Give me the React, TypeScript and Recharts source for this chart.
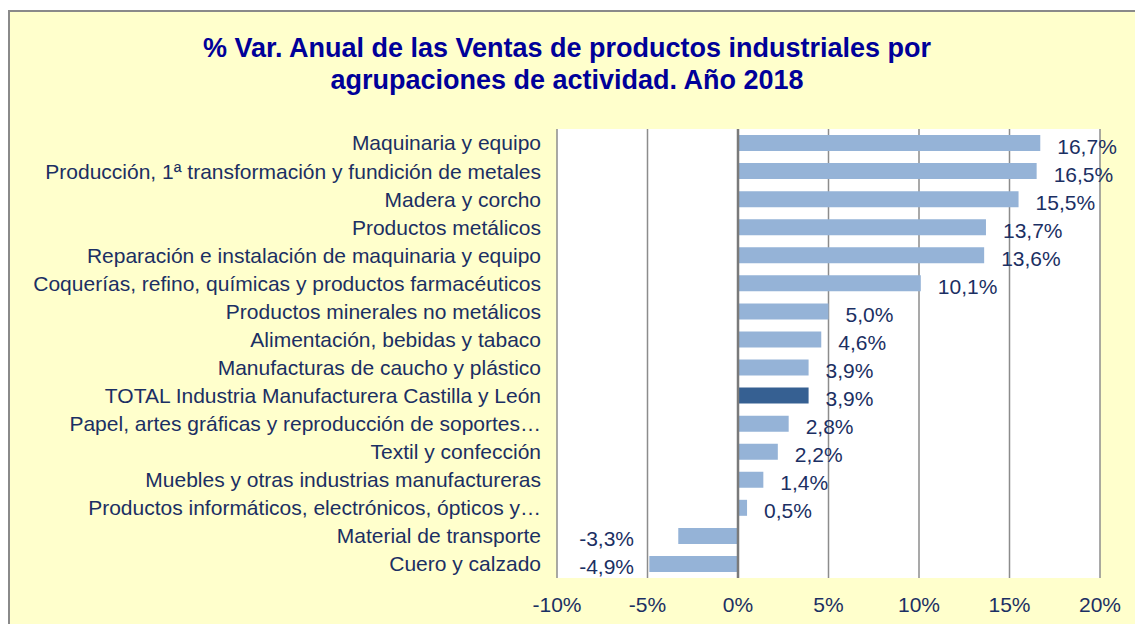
import { Bar, BarChart, CartesianGrid, Cell, LabelList, ReferenceLine, XAxis, YAxis } from "recharts";

const CATEGORIES = [
  "Maquinaria y equipo",
  "Producción, 1ª transformación y fundición de metales",
  "Madera y corcho",
  "Productos  metálicos",
  "Reparación e instalación de maquinaria y equipo",
  "Coquerías, refino, químicas y productos farmacéuticos",
  "Productos minerales no metálicos",
  "Alimentación, bebidas y tabaco",
  "Manufacturas de caucho y plástico",
  "TOTAL Industria Manufacturera Castilla y León",
  "Papel, artes gráficas y reproducción de soportes…",
  "Textil y confección",
  "Muebles y otras industrias manufactureras",
  "Productos informáticos, electrónicos, ópticos y…",
  "Material de transporte",
  "Cuero y calzado",
];

const VALUES = [16.7, 16.5, 15.5, 13.7, 13.6, 10.1, 5.0, 4.6, 3.9, 3.9, 2.8, 2.2, 1.4, 0.5, -3.3, -4.9];

const X_TICKS = [-10, -5, 0, 5, 10, 15, 20];

const TOTAL_INDEX = 9;

const TEXT_COLOR = "#1b2f63";
const FONT = "'Liberation Sans', Arial, sans-serif";
const FONT_SIZE = 21;

const data = CATEGORIES.map((name, i) => ({ name, value: VALUES[i] }));

function fmt(v: number) {
  return v.toFixed(1).replace(".", ",") + "%";
}

function ValueLabel(props: any) {
  const { x, y, width, height, value } = props;
  const right = Math.max(x, x + width);
  const cy = y + height / 2 + 3;
  const neg = value < 0;
  return (
    <text
      x={neg ? right - 104 : right + 17}
      y={cy}
      textAnchor={neg ? "end" : "start"}
      dominantBaseline="central"
      fill={TEXT_COLOR}
      fontSize={FONT_SIZE}
      fontFamily={FONT}
    >
      {fmt(value)}
    </text>
  );
}

export default function App() {
  return (
    <div style={{ width: 1135, height: 624, position: "relative", overflow: "hidden" }}>
      <style>{`body{margin:0;overflow:hidden}`}</style>
      <div
        style={{
          position: "absolute",
          left: 8,
          top: 10,
          width: 1140,
          height: 630,
          border: "2px solid #8a8a8a",
          background: "#ffffcc",
          boxSizing: "border-box",
        }}
      >
        <div
          style={{
            position: "absolute",
            left: 0,
            top: 20,
            width: 1114,
            textAlign: "center",
            fontFamily: FONT,
            fontWeight: "bold",
            fontSize: 27,
            lineHeight: "32px",
            color: "#000099",
          }}
        >
          % Var. Anual de las Ventas de productos industriales por
          <br />
          agrupaciones de actividad. Año 2018
        </div>
        <div style={{ position: "absolute", left: 0, top: 0 }}>
          <BarChart
            width={1130}
            height={612}
            data={data}
            layout="vertical"
            margin={{ top: 117, right: 40, bottom: 6, left: 0 }}
            barSize={16}
          >
            <CartesianGrid horizontal={false} stroke="#8c8c8c" strokeWidth={1.5} fill="#ffffff" />
            <XAxis
              type="number"
              domain={[-10, 20]}
              ticks={X_TICKS}
              tickFormatter={(v) => `${v}%`}
              axisLine={false}
              tickLine={false}
              tickSize={0}
              tickMargin={19}
              height={40}
              tick={{ fill: TEXT_COLOR, fontSize: FONT_SIZE, fontFamily: FONT }}
              interval={0}
            />
            <YAxis
              type="category"
              dataKey="name"
              width={547}
              axisLine={false}
              tickLine={false}
              tickSize={0}
              tickMargin={16}
              interval={0}
              tick={{ fill: TEXT_COLOR, fontSize: FONT_SIZE, fontFamily: FONT }}
            />
            <ReferenceLine x={0} stroke="#7a7a7a" strokeWidth={2.5} />
            <Bar dataKey="value" isAnimationActive={false}>
              {data.map((_, i) => (
                <Cell key={i} fill={i === TOTAL_INDEX ? "#366092" : "#95b3d7"} />
              ))}
              <LabelList dataKey="value" content={ValueLabel} />
            </Bar>
          </BarChart>
        </div>
      </div>
    </div>
  );
}
